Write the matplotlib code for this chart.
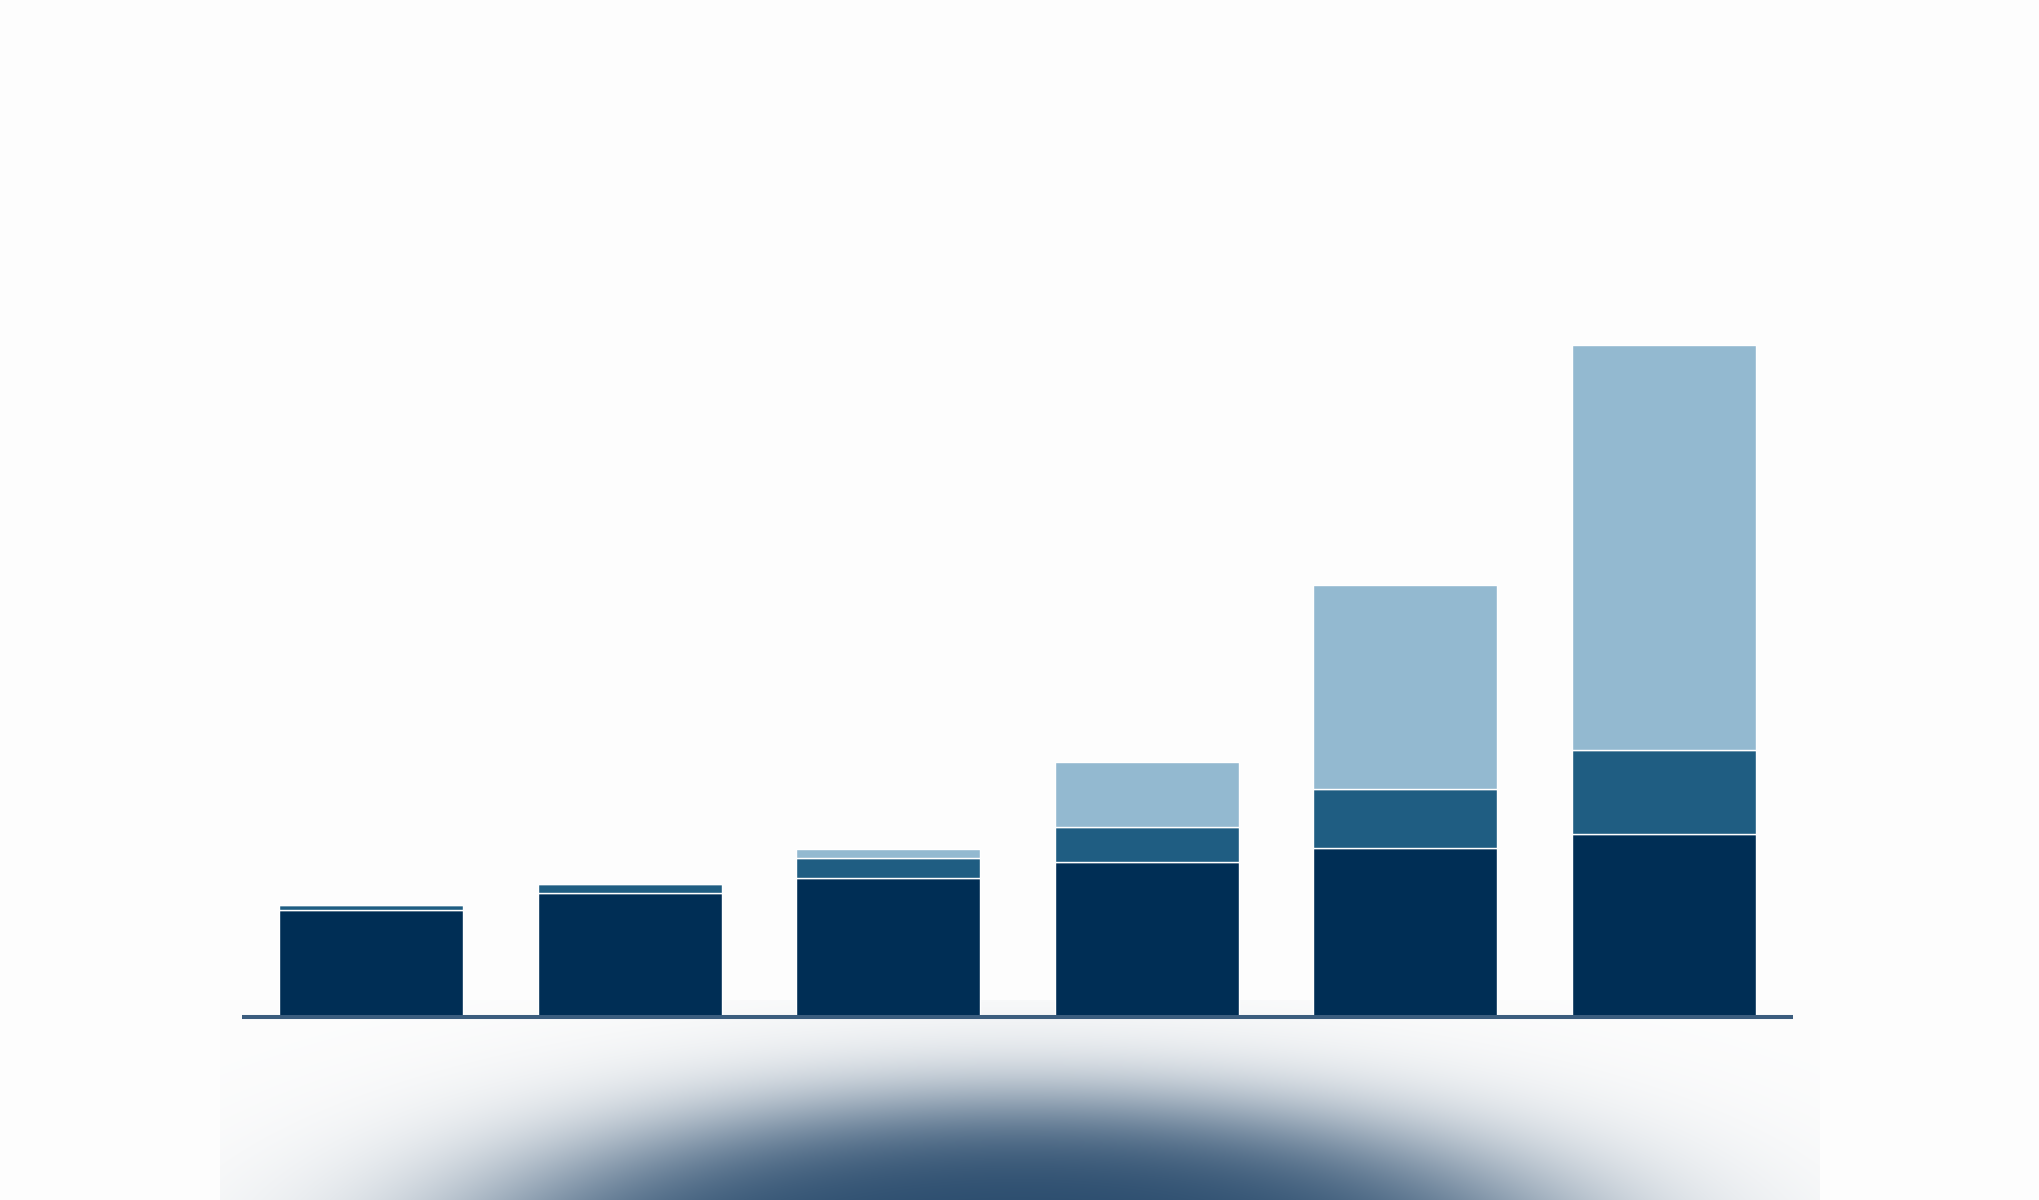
import numpy as np
import matplotlib
matplotlib.use("Agg")
import matplotlib.pyplot as plt

# Stacked values per bar (bottom, middle, top segment)
base_values = [10.7, 12.4, 13.9, 15.5, 16.9, 18.3]
middle_values = [0.5, 0.9, 2.0, 3.5, 5.9, 8.4]
top_values = [0.0, 0.0, 0.9, 6.5, 20.4, 40.5]

dark_blue = "#002e55"
mid_blue = "#1f5d82"
light_blue = "#93b9d0"
axis_color = "#3b5d7e"
bg_color = "#fdfdfd"

W, H = 2040, 1200
fig = plt.figure(figsize=(W / 100, H / 100), dpi=100, facecolor=bg_color)

# soft shadow under the bars (decoration only)
bg_ax = fig.add_axes([0, 0, 1, 1], zorder=0)
bg_ax.set_xlim(0, W)
bg_ax.set_ylim(H, 0)
bg_ax.axis("off")
x0, x1, y0, y1 = 220, 1820, 1000, 1200
xx, yy = np.meshgrid(np.arange(x0, x1) + 0.5, np.arange(y0, y1) + 0.5)
r = np.sqrt(((xx - 1020) / 540) ** 2 + ((yy - 1268) / 166) ** 2)
f = 1 / (1 + np.exp((r - 1) / 0.17))
shade = np.array([40, 74, 108]) / 255
white = np.array([253, 253, 253]) / 255
img = white * (1 - f[..., None]) + shade * f[..., None]
bg_ax.imshow(img, extent=[x0, x1, y1, y0], aspect="auto", interpolation="bilinear")

ax = fig.add_axes([242 / W, 1 - 1017 / H, (1793 - 242) / W, 917 / H], zorder=1)
ax.patch.set_alpha(0)

x = np.arange(len(base_values))
width = 0.712
bottom2 = np.array(base_values)
bottom3 = bottom2 + np.array(middle_values)
ax.bar(x, base_values, width, color=dark_blue, edgecolor="white", linewidth=1)
ax.bar(x, middle_values, width, bottom=bottom2, color=mid_blue, edgecolor="white", linewidth=1)
ax.bar(x, top_values, width, bottom=bottom3, color=light_blue, edgecolor="white", linewidth=1)

ax.set_xlim(-0.5, len(base_values) - 0.5)
ax.set_ylim(0, 91.7)
for side in ["top", "left", "right"]:
    ax.spines[side].set_visible(False)
ax.spines["bottom"].set_color(axis_color)
ax.spines["bottom"].set_linewidth(2.9)
ax.spines["bottom"].set_capstyle("butt")
ax.set_xticks([])
ax.set_yticks([])

fig.savefig("out.png", dpi=100, facecolor=bg_color)
